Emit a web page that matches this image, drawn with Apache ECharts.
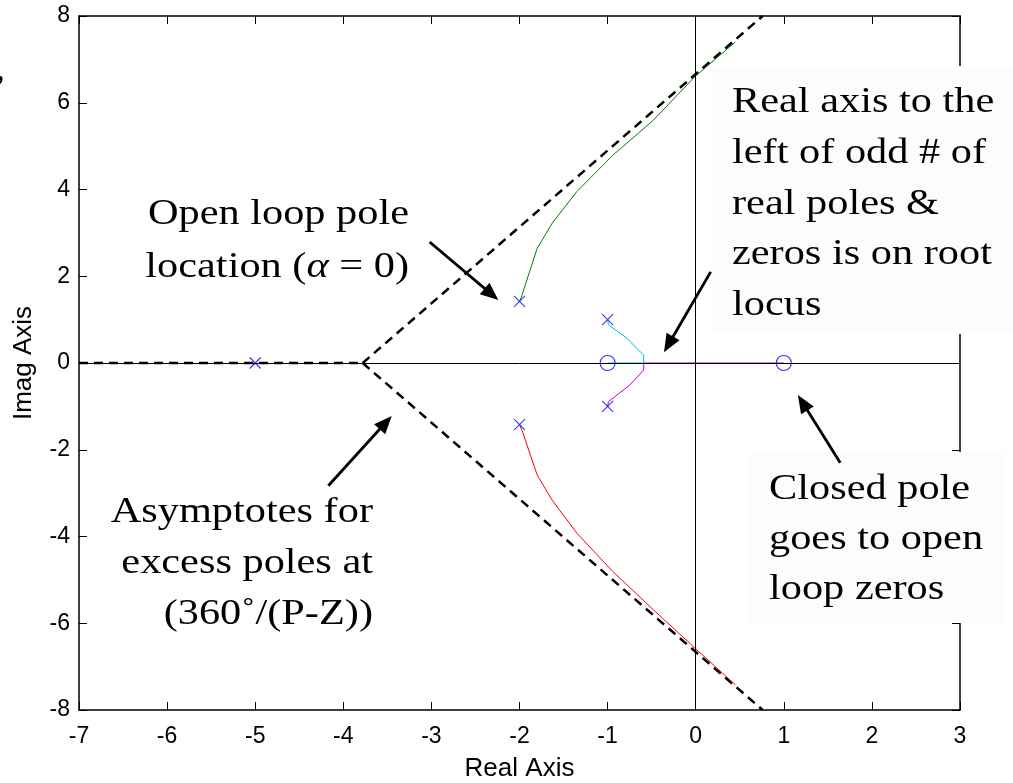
<!DOCTYPE html>
<html>
<head>
<meta charset="utf-8">
<title>Root locus</title>
<script src="https://cdn.jsdelivr.net/npm/echarts@6/dist/echarts.min.js"></script>
<style>
  html, body { margin: 0; padding: 0; background: #fff; }
  #chart { width: 1013px; height: 783px; }
</style>
</head>
<body>
<div id="chart"></div>
<script>
// Axis ranges
const realRange = [-7, 3];
const imagRange = [-8, 8];
const realStep = 1;
const imagStep = 2;

// Open-loop poles and zeros
const poles = [[-5, 0], [-2, 1.42], [-2, -1.42], [-1, 1], [-1, -1]];
const zeros = [[-1, 0], [1, 0]];

// Root-locus branches
const branchUpper = [[-2.00, 1.42], [-1.97, 1.56], [-1.96, 1.64], [-1.88, 2.14], [-1.80, 2.64], [-1.63, 3.22],
  [-1.35, 3.95], [-0.94, 4.79], [-0.48, 5.60], [-0.01, 6.60], [0.45, 7.40]];
const branchLower = [[-2.00, -1.42], [-1.97, -1.56], [-1.96, -1.62], [-1.80, -2.58], [-1.63, -3.16],
  [-1.35, -3.92], [-0.94, -4.81], [-0.48, -5.69], [-0.01, -6.57], [0.45, -7.42]];
const branchCyan = [[-1.00, 1.00], [-0.99, 0.88], [-0.78, 0.57], [-0.67, 0.34], [-0.59, 0.18], [-0.59, 0.00], [-1.00, 0.00]];
const branchMagenta = [[-1.00, -1.00], [-0.99, -0.89], [-0.75, -0.51], [-0.59, -0.16], [-0.59, 0.00], [1.00, 0.00]];

// Asymptotes of the excess poles
const asymptoteReal = [[-7, 0], [-3.78, 0]];
const asymptoteUp = [[-3.78, 0], [0.76, 8]];
const asymptoteDown = [[-3.78, 0], [0.76, -8]];

// Annotation arrows: [fromX, fromY, toX, toY]
const arrows = [
  [-3.02, 2.79, -2.24, 1.45],
  [0.17, 2.10, -0.36, 0.25],
  [-4.17, -2.83, -3.45, -1.22],
  [1.64, -2.30, 1.16, -0.74]
];

// Annotation text lines
const notePole = ['Open loop pole'];
const noteRealAxis = ['Real axis to the', 'left of odd # of', 'real poles &', 'zeros is on root', 'locus'];
const noteAsymptote = ['Asymptotes for', 'excess poles at', '(360˚/(P-Z))'];
const noteZeros = ['Closed pole', 'goes to open', 'loop zeros'];

const chart = echarts.init(document.getElementById('chart'), null, { renderer: 'canvas' });

const serif = '"Liberation Serif", "Times New Roman", serif';
const sans = '"Liberation Sans", Arial, Helvetica, sans-serif';
const noteSize = 35;
const stretch = 1.21;

function axisBase(extra) {
  return Object.assign({
    type: 'value',
    axisLine: { show: true, onZero: false, lineStyle: { color: '#000', width: 1.5 } },
    axisTick: { show: true, inside: true, length: 8, lineStyle: { color: '#000', width: 1 } },
    splitLine: { show: false },
    axisLabel: { show: false }
  }, extra);
}

const labelStyle = { show: true, color: '#000', fontFamily: sans, fontSize: 23 };

function textLines(lines, x, yStart, gap, align) {
  return lines.map((t, i) => ({
    type: 'text',
    x: x,
    y: yStart + i * gap,
    scaleX: stretch,
    z: 6,
    silent: true,
    style: {
      text: t, x: 0, y: 0,
      font: noteSize + 'px ' + serif,
      fill: '#000',
      textAlign: align, align: align,
      textVerticalAlign: 'middle', verticalAlign: 'middle'
    }
  }));
}

const graphics = [
  { type: 'rect', z: 5, silent: true, shape: { x: 712, y: 66, width: 301, height: 268 }, style: { fill: '#fcfcfc' } },
  { type: 'rect', z: 5, silent: true, shape: { x: 749, y: 452, width: 256, height: 171 }, style: { fill: '#fcfcfc' } },
  { type: 'text', x: -4, y: 71, z: 6, silent: true,
    style: { text: ',', x: 0, y: 0, font: noteSize + 'px ' + serif, fill: '#000', textVerticalAlign: 'middle', verticalAlign: 'middle' } }
]
  .concat(textLines(notePole, 409, 215, 53, 'right'))
  .concat([{
    type: 'text', x: 409, y: 268, scaleX: stretch, z: 6, silent: true,
    style: {
      text: '{n|location (}{a|α}{n| = 0)}', x: 0, y: 0,
      textAlign: 'right', align: 'right', textVerticalAlign: 'middle', verticalAlign: 'middle',
      fill: '#000',
      rich: {
        n: { fontFamily: serif, fontSize: noteSize, fill: '#000', color: '#000' },
        a: { fontFamily: serif, fontSize: noteSize, fontStyle: 'italic', fill: '#000', color: '#000' }
      }
    }
  }])
  .concat(textLines(noteRealAxis, 732, 103, 50.75, 'left'))
  .concat(textLines(noteAsymptote, 373, 513, 51, 'right'))
  .concat(textLines(noteZeros, 769, 490, 50, 'left'));

function locus(data, color) {
  return {
    type: 'line', data: data, showSymbol: false, symbol: 'none', z: 3, silent: true,
    lineStyle: { color: color, width: 1 }
  };
}

function dashed(data) {
  return {
    type: 'line', data: data, showSymbol: false, symbol: 'none', z: 2, silent: true,
    lineStyle: { color: '#000', width: 2.5, type: [9, 6] }
  };
}

const option = {
  backgroundColor: '#fff',
  animation: false,
  grid: { left: 79, right: 53, top: 16, bottom: 73, containLabel: false, outerBoundsMode: 'none' },
  xAxis: [
    axisBase({
      position: 'bottom', min: realRange[0], max: realRange[1], interval: realStep,
      axisLabel: Object.assign({ margin: 15 }, labelStyle),
      name: 'Real Axis', nameLocation: 'middle', nameGap: 46,
      nameTextStyle: { color: '#000', fontFamily: sans, fontSize: 26 }
    }),
    axisBase({ position: 'top', min: realRange[0], max: realRange[1], interval: realStep })
  ],
  yAxis: [
    axisBase({
      position: 'left', min: imagRange[0], max: imagRange[1], interval: imagStep,
      axisLabel: Object.assign({ margin: 9 }, labelStyle),
      name: 'Imag Axis', nameLocation: 'middle', nameGap: 42,
      nameTextStyle: { color: '#000', fontFamily: sans, fontSize: 26 }
    }),
    axisBase({ position: 'right', min: imagRange[0], max: imagRange[1], interval: imagStep })
  ],
  graphic: { elements: graphics },
  series: [
    {
      type: 'line', data: [], z: 1, silent: true,
      markLine: {
        silent: true, symbol: 'none', label: { show: false },
        lineStyle: { color: '#000', width: 1, type: 'solid' },
        emphasis: { disabled: true },
        data: [{ xAxis: 0 }, { yAxis: 0 }]
      }
    },
    dashed(asymptoteReal),
    dashed(asymptoteUp),
    dashed(asymptoteDown),
    locus(branchUpper, '#008000'),
    locus(branchLower, '#ff0000'),
    locus(branchCyan, '#00bfbf'),
    locus(branchMagenta, '#bf00bf'),
    {
      type: 'scatter', data: poles, z: 4, silent: true,
      symbol: 'path://M0,0L10,10M10,0L0,10', symbolSize: 11,
      itemStyle: { color: 'transparent', borderColor: '#0000ff', borderWidth: 1.1 }
    },
    {
      type: 'scatter', data: zeros, z: 4, silent: true,
      symbol: 'circle', symbolSize: 15,
      itemStyle: { color: 'transparent', borderColor: '#0000ff', borderWidth: 1.2 }
    },
    {
      type: 'custom', data: arrows, z: 8, silent: true,
      encode: { x: [0, 2], y: [1, 3] },
      renderItem: function (params, api) {
        const p1 = api.coord([api.value(0), api.value(1)]);
        const p2 = api.coord([api.value(2), api.value(3)]);
        const dx = p2[0] - p1[0], dy = p2[1] - p1[1];
        const len = Math.hypot(dx, dy);
        const ux = dx / len, uy = dy / len;
        const headLen = 18, halfW = 7.5;
        const bx = p2[0] - ux * headLen, by = p2[1] - uy * headLen;
        return {
          type: 'group',
          children: [
            { type: 'line', shape: { x1: p1[0], y1: p1[1], x2: bx + ux * 3, y2: by + uy * 3 },
              style: { stroke: '#000', lineWidth: 2.8 } },
            { type: 'polygon', shape: { points: [[p2[0], p2[1]], [bx - uy * halfW, by + ux * halfW], [bx + uy * halfW, by - ux * halfW]] },
              style: { fill: '#000' } }
          ]
        };
      }
    }
  ]
};

chart.setOption(option);
</script>
</body>
</html>
